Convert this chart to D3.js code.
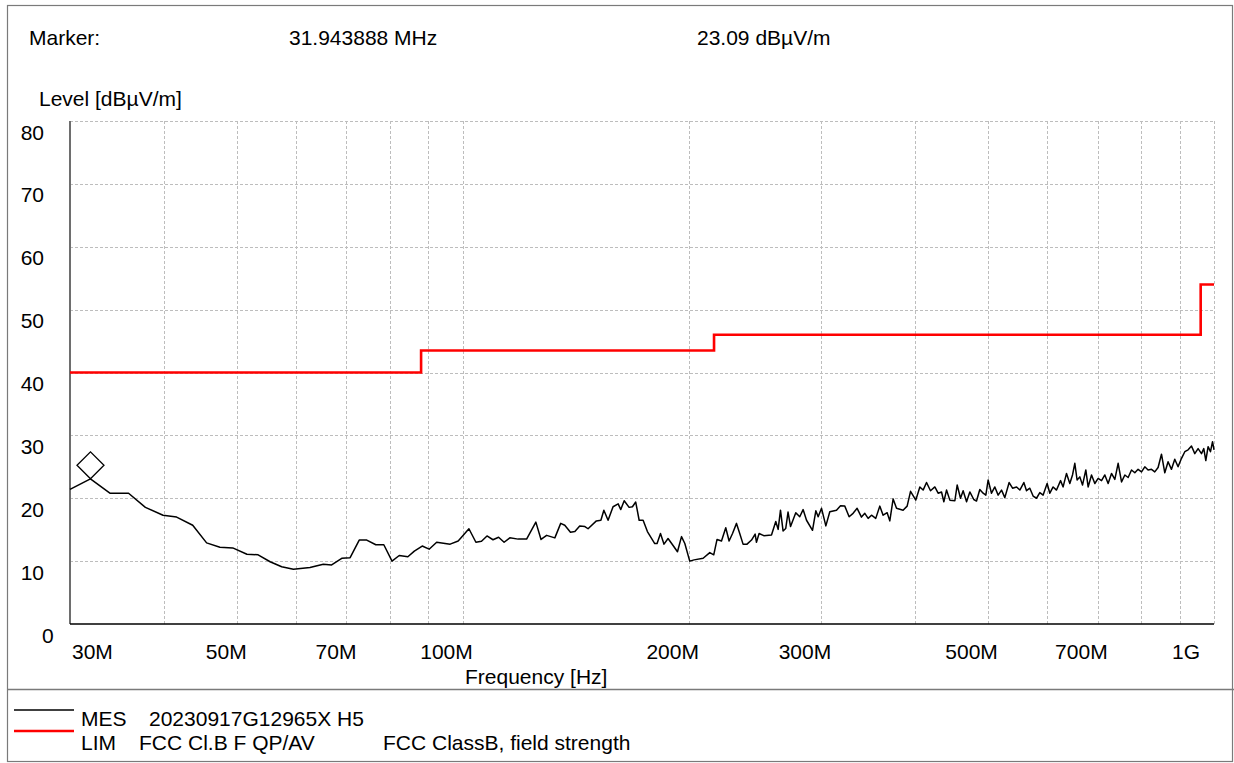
<!DOCTYPE html>
<html>
<head>
<meta charset="utf-8">
<script src="https://cdn.jsdelivr.net/npm/d3@7/dist/d3.min.js"></script>
<style>
  html, body { margin: 0; padding: 0; background: #fff; }
  svg { display: block; }
  text { font-family: "Liberation Sans", Arial, sans-serif; fill: #000; }
</style>
</head>
<body>
<svg id="chart" width="1234" height="763"></svg>
<script>
// Measured field strength (MES trace): frequency in MHz, level in dBµV/m
const mesFreq = [
  30.0, 31.94, 33.9, 35.9, 37.8, 39.9, 41.6, 43.7, 45.6, 47.5, 49.4, 51.6, 53.4, 55.4, 57.4, 59.5,
  62.6, 65.2, 66.9, 69.0, 70.8, 72.8, 74.5, 76.6, 78.5, 80.5, 82.3, 84.5, 86.2, 88.3, 90.2, 92.3,
  96.2, 98.6, 101.9, 104.1, 105.9, 107.7, 109.7, 111.6, 113.5, 115.5, 118.5, 121.6, 125.1, 127.1,
  129.3, 132.6, 135.0, 136.7, 139.1, 141.0, 143.1, 145.4, 146.8, 150.6, 152.7, 154.1, 156.1, 158.5,
  161.0, 162.3, 164.0, 166.5, 168.2, 169.9, 171.7, 173.8, 176.1, 180.1, 181.4, 183.3, 185.3, 187.6,
  190.2, 193.1, 195.5, 197.5, 200.5, 203.2, 208.9, 213.2, 215.8, 218.0, 221.0, 223.9, 226.2, 228.6,
  231.4, 233.7, 236.1, 239.0, 242.3, 245.0, 246.0, 248.0, 251.6, 257.6, 261.0, 262.9, 264.8, 266.9,
  269.1, 271.0, 273.1, 277.5, 280.9, 283.8, 286.8, 292.1, 295.1, 297.2, 300.3, 304.3, 308.0, 314.4,
  318.3, 322.5, 326.8, 330.8, 334.9, 339.4, 342.9, 346.4, 350.0, 354.6, 359.0, 362.7, 367.2, 370.2,
  374.0, 377.9, 385.6, 390.4, 394.5, 400.9, 405.9, 410.0, 414.3, 419.4, 425.0, 429.3, 433.8, 436.9,
  440.5, 445.0, 451.9, 455.1, 459.8, 463.5, 468.4, 473.1, 478.9, 482.9, 487.8, 492.8, 496.9, 500.4,
  505.6, 510.8, 516.0, 521.4, 526.7, 533.7, 539.3, 546.0, 551.5, 558.3, 562.9, 568.6, 574.4, 580.4,
  586.3, 592.3, 599.6, 604.6, 610.7, 617.1, 624.8, 629.7, 636.3, 642.8, 648.1, 652.7, 657.3, 662.8,
  668.3, 675.1, 679.9, 687.0, 694.0, 701.1, 708.4, 715.6, 722.9, 730.4, 737.9, 745.4, 753.2, 760.9,
  768.6, 776.6, 784.5, 792.4, 800.8, 808.9, 817.1, 825.7, 834.0, 842.5, 851.3, 860.0, 868.7, 877.8,
  886.7, 895.7, 905.2, 914.4, 923.7, 933.3, 942.8, 952.4, 962.4, 969.2, 975.2, 982.1, 989.3, 995.5,
  1000.0
];
const mesLevel = [
  21.4, 23.09, 20.8, 20.8, 18.55, 17.3, 17.0, 15.7, 12.9, 12.2, 12.1, 11.1, 11.0, 9.9, 9.1, 8.7,
  9.0, 9.5, 9.4, 10.45, 10.55, 13.35, 13.35, 12.6, 12.6, 10.0, 10.9, 10.7, 11.6, 12.4, 11.9, 13.0,
  12.7, 13.2, 15.15, 13.0, 13.15, 14.0, 13.4, 13.8, 13.0, 13.7, 13.5, 13.5, 16.2, 13.45,
  14.1, 13.7, 16.0, 15.7, 14.6, 14.7, 15.6, 15.5, 15.15, 16.4, 16.5, 18.1, 16.5, 18.65,
  19.1, 18.2, 19.6, 18.55, 18.65, 19.4, 16.5, 16.5, 14.7, 12.8, 12.8, 14.4, 12.7, 13.6,
  12.6, 11.5, 13.9, 12.8, 10.0, 10.2, 10.45, 11.35, 11.0, 13.45, 13.2, 15.3, 13.2, 14.4,
  16.0, 14.4, 12.7, 12.7, 13.35, 14.3, 13.0, 14.4, 14.05, 14.15, 16.3, 15.05, 18.1, 14.8,
  15.2, 17.8, 15.5, 17.7, 17.05, 18.2, 16.5, 14.9, 18.0, 17.05, 18.4, 15.6, 17.85, 18.1,
  18.8, 18.75, 17.05, 17.6, 18.4, 17.0, 17.6, 16.8, 17.3, 16.8, 18.75, 17.3, 17.7, 16.4,
  19.9, 18.4, 18.1, 18.75, 21.1, 19.7, 21.8, 21.3, 22.5, 21.2, 21.8, 20.8, 21.0, 19.45,
  21.3, 19.7, 19.6, 22.1, 20.0, 21.2, 19.45, 21.0, 19.8, 19.55, 21.4, 20.8, 20.5, 22.9,
  20.8, 21.8, 20.5, 21.3, 20.1, 22.5, 21.6, 21.8, 21.3, 22.5, 21.2, 21.6, 20.35, 20.0,
  20.9, 20.5, 22.35, 20.8, 21.8, 21.3, 22.8, 21.8, 23.95, 22.35, 23.7, 25.55, 22.9, 23.4,
  22.1, 24.5, 21.8, 23.7, 22.35, 23.15, 22.8, 23.7, 22.35, 23.95, 23.0, 25.55, 22.6, 23.7,
  23.3, 24.5, 24.05, 24.6, 24.2, 25.0, 24.5, 24.6, 24.2, 24.9, 27.0, 24.05, 25.8, 24.6,
  26.2, 25.0, 26.35, 27.4, 27.7, 28.3, 27.1, 27.9, 27.1, 27.9, 26.0, 28.2, 27.4, 29.0,
  27.7
];

// FCC Class B radiated limit (step function), MHz / dBµV/m
const limFreq = [30, 88, 216, 960, 1000];
const limLevel = [40, 43.5, 46, 54, 54];

// Marker reading
const markerFreq = 31.943888;
const markerLevel = 23.09;

// Axis ticks and grid
const yTicks = [0, 10, 20, 30, 40, 50, 60, 70, 80];
const xTickValues = [30, 50, 70, 100, 200, 300, 500, 700, 1000];
const xTickLabels = ["30M", "50M", "70M", "100M", "200M", "300M", "500M", "700M", "1G"];
const xGrid = [40, 50, 60, 70, 80, 90, 100, 200, 300, 400, 500, 600, 700, 800, 900, 1000];

const svg = d3.select("#chart");
const W = 1234, H = 763;
const plot = { left: 70, right: 1214, top: 121, bottom: 624 };

const x = d3.scaleLog().domain([30, 1000]).range([plot.left, plot.right]);
const y = d3.scaleLinear().domain([0, 80]).range([plot.bottom, plot.top]);

svg.append("rect").attr("width", W).attr("height", H).attr("fill", "#fff");

// outer frame and legend separator
svg.append("rect")
  .attr("x", 7.5).attr("y", 5.5).attr("width", W - 9).attr("height", H - 7)
  .attr("fill", "none").attr("stroke", "#7a7a7a").attr("stroke-width", 1.2);
svg.append("line")
  .attr("x1", 7.5).attr("x2", W).attr("y1", 689.5).attr("y2", 689.5)
  .attr("stroke", "#7a7a7a").attr("stroke-width", 1.5);

const FONT = 21;

// header
const header = svg.append("g").attr("font-size", FONT);
header.append("text").attr("x", 29).attr("y", 45).text("Marker:");
header.append("text").attr("x", 289).attr("y", 45).text(`${markerFreq.toFixed(6)} MHz`);
header.append("text").attr("x", 697).attr("y", 45).text(`${markerLevel.toFixed(2)} dBµV/m`);
svg.append("text").attr("font-size", FONT).attr("x", 39).attr("y", 106).text("Level [dBµV/m]");

// grid
const grid = svg.append("g")
  .attr("stroke", "#bdbdbd").attr("stroke-width", 1).attr("stroke-dasharray", "3,2").attr("fill", "none");
grid.selectAll("line.h").data(yTicks.filter(d => d > 0)).join("line")
  .attr("x1", plot.left).attr("x2", plot.right)
  .attr("y1", d => Math.round(y(d)) + 0.5).attr("y2", d => Math.round(y(d)) + 0.5);
grid.selectAll("line.v").data(xGrid).join("line")
  .attr("x1", d => Math.round(x(d)) + 0.5).attr("x2", d => Math.round(x(d)) + 0.5)
  .attr("y1", plot.top).attr("y2", plot.bottom);

// axes lines
svg.append("line")
  .attr("x1", plot.left).attr("x2", plot.left).attr("y1", plot.top).attr("y2", plot.bottom)
  .attr("stroke", "#6e6e6e").attr("stroke-width", 2);
svg.append("line")
  .attr("x1", plot.left).attr("x2", plot.right).attr("y1", plot.bottom).attr("y2", plot.bottom)
  .attr("stroke", "#000").attr("stroke-width", 1.6);

// y tick labels
svg.append("g").attr("font-size", FONT)
  .selectAll("text").data(yTicks).join("text")
  .attr("x", d => d === 0 ? 42 : 44)
  .attr("text-anchor", d => d === 0 ? "start" : "end")
  .attr("y", d => y(d) + 18.5)
  .text(d => d);

// x tick labels
svg.append("g").attr("font-size", FONT)
  .selectAll("text").data(xTickValues).join("text")
  .attr("x", (d, i) => i === 0 ? x(d) + 2 : (d === 1000 ? x(d) - 14 : x(d) + 10))
  .attr("text-anchor", (d, i) => i === 0 ? "start" : "end")
  .attr("y", 659)
  .text((d, i) => xTickLabels[i]);

svg.append("text").attr("font-size", FONT).attr("x", 465).attr("y", 684).text("Frequency [Hz]");

// limit line
const limData = limFreq.map((f, i) => [f, limLevel[i]]);
svg.append("path")
  .datum(limData)
  .attr("fill", "none").attr("stroke", "#ff0000").attr("stroke-width", 2.6)
  .attr("d", d3.line().x(d => x(d[0])).y(d => y(d[1])).curve(d3.curveStepAfter));

// measurement trace
const mesData = mesFreq.map((f, i) => [f, mesLevel[i]]);
svg.append("path")
  .datum(mesData)
  .attr("fill", "none").attr("stroke", "#000").attr("stroke-width", 1.5).attr("stroke-linejoin", "round")
  .attr("d", d3.line().x(d => x(d[0])).y(d => y(d[1])));

// marker diamond sitting on the trace point
const mx = x(markerFreq), my = y(markerLevel), r = 13.5;
svg.append("path")
  .attr("d", `M${mx},${my} L${mx + r},${my - r} L${mx},${my - 2 * r} L${mx - r},${my - r} Z`)
  .attr("fill", "none").attr("stroke", "#000").attr("stroke-width", 1.3);

// legend
const leg = svg.append("g").attr("font-size", FONT);
leg.append("line").attr("x1", 14).attr("x2", 74).attr("y1", 710).attr("y2", 710)
  .attr("stroke", "#000").attr("stroke-width", 1.3);
leg.append("line").attr("x1", 14).attr("x2", 74).attr("y1", 731).attr("y2", 731)
  .attr("stroke", "#ff0000").attr("stroke-width", 2.6);
leg.append("text").attr("x", 81).attr("y", 726).text("MES");
leg.append("text").attr("x", 149).attr("y", 726).text("20230917G12965X H5");
leg.append("text").attr("x", 81).attr("y", 749.5).text("LIM");
leg.append("text").attr("x", 139).attr("y", 749.5).text("FCC Cl.B F QP/AV");
leg.append("text").attr("x", 383).attr("y", 749.5).text("FCC ClassB, field strength");
</script>
</body>
</html>
